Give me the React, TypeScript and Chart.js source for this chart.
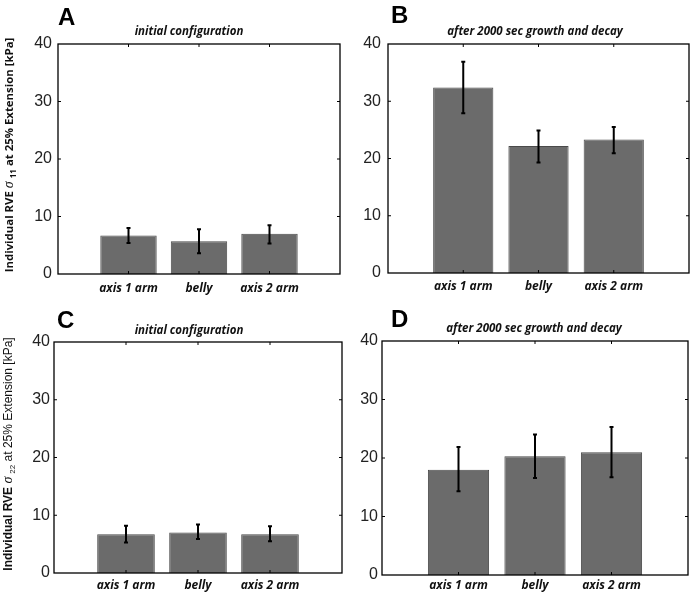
import React, { useEffect, useRef } from 'react';
import { Chart, registerables } from 'chart.js';

Chart.register(...registerables);

// ---------- data ----------
const categories = ['axis 1 arm', 'belly', 'axis 2 arm'];
const yTickStep = 10;
const yMin = 0;
const yMax = 40;

const titleInitial = 'initial configuration';
const titleAfter = 'after 2000 sec growth and decay';

// Panel A: sigma_11, initial configuration
const aMean = [6.7, 5.7, 7.0];
const aLow = [5.4, 3.6, 5.3];
const aHigh = [8.0, 7.8, 8.5];

// Panel B: sigma_11, after 2000 sec growth and decay
const bMean = [32.4, 22.2, 23.3];
const bLow = [27.9, 19.3, 20.9];
const bHigh = [36.9, 24.9, 25.5];

// Panel C: sigma_22, initial configuration
const cMean = [6.7, 7.0, 6.7];
const cLow = [5.3, 5.9, 5.5];
const cHigh = [8.2, 8.4, 8.1];

// Panel D: sigma_22, after 2000 sec growth and decay
const dMean = [18.0, 20.3, 21.0];
const dLow = [14.3, 16.6, 16.7];
const dHigh = [21.9, 24.0, 25.3];

// ---------- layout ----------
type PanelCfg = {
  letter: string;
  title: string;
  mean: number[];
  low: number[];
  high: number[];
  left: number;
  top: number;
  width: number;
  height: number;
  yW: number;
  xH: number;
  padTop: number;
  padRight: number;
  yPad: number;
  xPad: number;
  titleX: number;
  titleY: number;
  letterX: number;
  letterY: number;
};

const panels: PanelCfg[] = [
  {
    letter: 'A', title: titleInitial, mean: aMean, low: aLow, high: aHigh,
    left: 0, top: 0, width: 348, height: 298,
    yW: 58, xH: 24, padTop: 44, padRight: 8, yPad: 6, xPad: 7,
    titleX: 189, titleY: 32, letterX: 58, letterY: 5,
  },
  {
    letter: 'B', title: titleAfter, mean: bMean, low: bLow, high: bHigh,
    left: 348, top: 0, width: 348, height: 298,
    yW: 40, xH: 25, padTop: 44, padRight: 7, yPad: 7, xPad: 6,
    titleX: 535, titleY: 32, letterX: 391, letterY: 3,
  },
  {
    letter: 'C', title: titleInitial, mean: cMean, low: cLow, high: cHigh,
    left: 0, top: 298, width: 348, height: 299,
    yW: 54, xH: 24, padTop: 44, padRight: 6, yPad: 4, xPad: 5,
    titleX: 189, titleY: 330.5, letterX: 57, letterY: 308,
  },
  {
    letter: 'D', title: titleAfter, mean: dMean, low: dLow, high: dHigh,
    left: 348, top: 298, width: 348, height: 299,
    yW: 34, xH: 22, padTop: 43, padRight: 8, yPad: 4, xPad: 3,
    titleX: 534, titleY: 329, letterX: 391, letterY: 307,
  },
];

const tickFont = { family: 'Liberation Sans, Arial, sans-serif', size: 16 };
const catFont = { family: 'Open Sans, sans-serif', size: 12, weight: 'bold' as const, style: 'italic' as const };

function makeBoxPlugin(cfg: PanelCfg) {
  return {
    id: 'matlabBox' + cfg.letter,
    afterDatasetsDraw(chart: any) {
      const { ctx, chartArea, scales } = chart;
      const { left, right, top, bottom } = chartArea;
      const x = scales.x;
      const y = scales.y;
      ctx.save();
      // error bars
      ctx.strokeStyle = '#000';
      ctx.lineWidth = 2;
      cfg.low.forEach((lo, i) => {
        const px = x.getPixelForValue(i + 1);
        const yl = y.getPixelForValue(lo);
        const yh = y.getPixelForValue(cfg.high[i]);
        ctx.beginPath();
        ctx.moveTo(px, yl);
        ctx.lineTo(px, yh);
        ctx.moveTo(px - 2, yl);
        ctx.lineTo(px + 2, yl);
        ctx.moveTo(px - 2, yh);
        ctx.lineTo(px + 2, yh);
        ctx.stroke();
      });
      // frame
      ctx.lineWidth = 1.3;
      ctx.strokeStyle = '#000';
      ctx.strokeRect(left, top, right - left, bottom - top);
      // inward ticks
      ctx.lineWidth = 1;
      ctx.beginPath();
      for (let v = yMin + yTickStep; v < yMax; v += yTickStep) {
        const py = y.getPixelForValue(v);
        ctx.moveTo(left, py);
        ctx.lineTo(left + 3, py);
        ctx.moveTo(right, py);
        ctx.lineTo(right - 3, py);
      }
      categories.forEach((_, i) => {
        const px = x.getPixelForValue(i + 1);
        ctx.moveTo(px, top);
        ctx.lineTo(px, top + 3);
        ctx.moveTo(px, bottom);
        ctx.lineTo(px, bottom - 3);
      });
      ctx.stroke();
      // subplot title
      ctx.fillStyle = '#111';
      ctx.font = `italic bold 11.5px "Open Sans", sans-serif`;
      ctx.textAlign = 'center';
      ctx.textBaseline = 'middle';
      ctx.fillText(cfg.title, cfg.titleX - cfg.left, cfg.titleY - cfg.top);
      ctx.restore();
    },
  };
}

function Panel({ cfg }: { cfg: PanelCfg }) {
  const ref = useRef<HTMLCanvasElement | null>(null);
  useEffect(() => {
    if (!ref.current) return;
    const chart = new Chart(ref.current, {
      type: 'bar',
      data: {
        labels: ['', ...categories, ''],
        datasets: [
          {
            data: [null, ...cfg.mean, null],
            backgroundColor: '#6b6b6b',
            borderColor: '#4a4a4a',
            borderWidth: 1,
            barPercentage: 0.8,
            categoryPercentage: 1,
          },
        ],
      },
      options: {
        responsive: false,
        animation: false,
        devicePixelRatio: 1,
        layout: { padding: { top: cfg.padTop, right: cfg.padRight, left: 0, bottom: 0 } },
        plugins: {
          legend: { display: false },
          tooltip: { enabled: false },
          title: { display: false },
        },
        scales: {
          x: {
            type: 'category',
            offset: false,
            grid: { display: false, drawTicks: false },
            border: { display: false },
            ticks: {
              autoSkip: false,
              maxRotation: 0,
              minRotation: 0,
              padding: cfg.xPad,
              color: '#111',
              font: catFont,
            },
            afterFit: (s: any) => {
              s.height = cfg.xH;
            },
          },
          y: {
            min: yMin,
            max: yMax,
            grid: { display: false, drawTicks: false },
            border: { display: false },
            ticks: {
              stepSize: yTickStep,
              padding: cfg.yPad,
              color: '#222',
              font: tickFont,
            },
            afterFit: (s: any) => {
              s.width = cfg.yW;
            },
          },
        },
      } as any,
      plugins: [makeBoxPlugin(cfg)],
    });
    return () => chart.destroy();
  }, [cfg]);
  return (
    <canvas
      ref={ref}
      width={cfg.width}
      height={cfg.height}
      style={{ position: 'absolute', left: cfg.left, top: cfg.top, width: cfg.width, height: cfg.height }}
    />
  );
}

function YLabel({ sub, cx, cy, allBold }: { sub: string; cx: number; cy: number; allBold: boolean }) {
  const boldFam = allBold ? '"Open Sans", sans-serif' : '"Liberation Sans", Arial, sans-serif';
  return (
    <div
      style={{
        position: 'absolute',
        left: cx,
        top: cy,
        transform: 'translate(-50%, -50%) rotate(-90deg)',
        whiteSpace: 'nowrap',
        fontFamily: boldFam,
        fontSize: allBold ? 11.4 : 12,
        lineHeight: '16px',
        color: '#111',
      }}
    >
      <span style={{ fontWeight: 'bold' }}>Individual RVE </span>
      <span style={{ fontFamily: '"Liberation Serif", serif', fontStyle: 'italic', fontSize: 14 }}>σ</span>
      <sub style={{ fontSize: 8, fontWeight: allBold ? 'bold' : 'normal', marginLeft: 3 }}>{sub}</sub>
      <span style={{ fontWeight: allBold ? 'bold' : 'normal' }}> at 25% Extension [kPa]</span>
    </div>
  );
}

export default function App() {
  return (
    <div
      style={{
        position: 'fixed',
        left: 0,
        top: 0,
        width: 696,
        height: 597,
        background: '#fff',
        overflow: 'hidden',
      }}
    >
      {panels.map((p) => (
        <Panel key={p.letter} cfg={p} />
      ))}
      {panels.map((p) => (
        <div
          key={'L' + p.letter}
          style={{
            position: 'absolute',
            left: p.letterX,
            top: p.letterY,
            fontFamily: '"Liberation Sans", Arial, sans-serif',
            fontWeight: 'bold',
            fontSize: 24,
            lineHeight: '24px',
            color: '#000',
          }}
        >
          {p.letter}
        </div>
      ))}
      <YLabel sub="11" cx={11} cy={155} allBold={true} />
      <YLabel sub="22" cx={11} cy={454} allBold={false} />
    </div>
  );
}
